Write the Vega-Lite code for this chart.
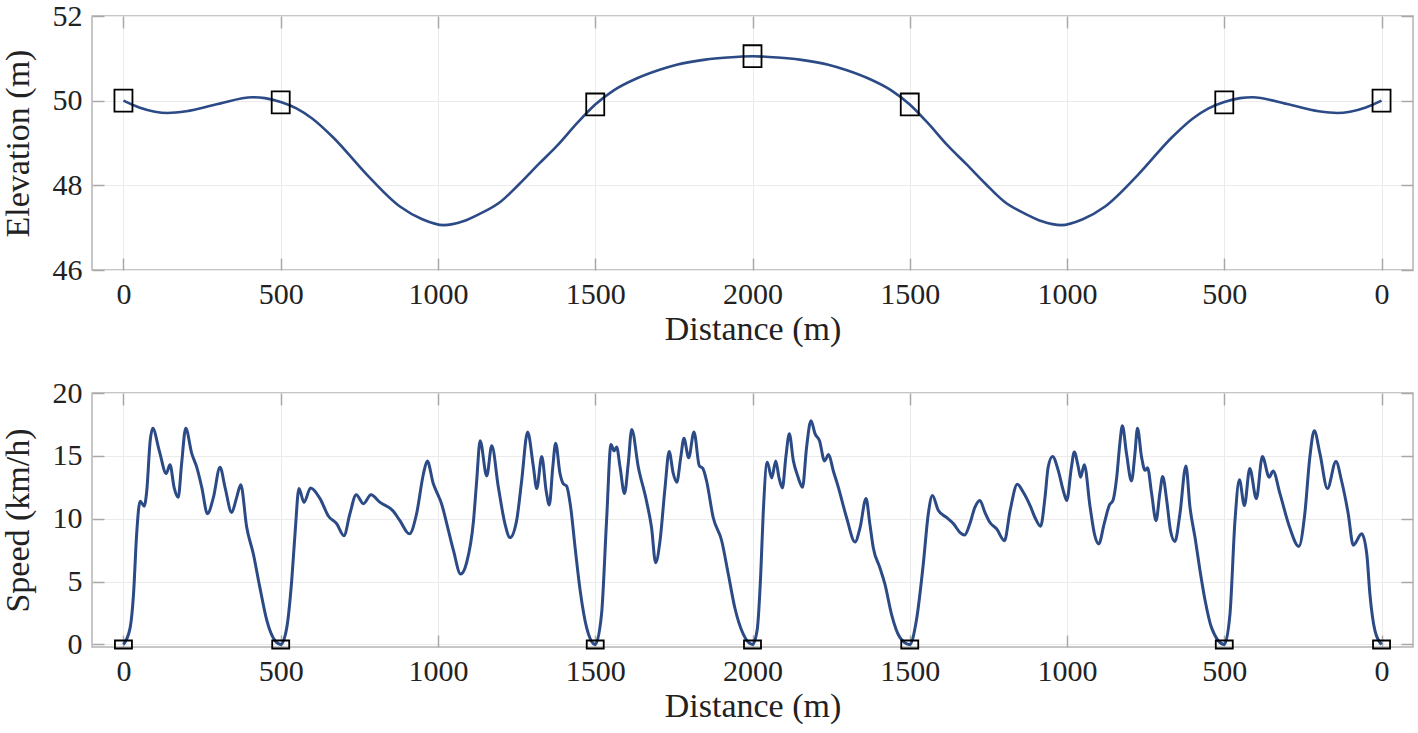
{
"$schema": "https://vega.github.io/schema/vega-lite/v6.json",
"background": "white",
"padding": {"left": 0, "top": 0, "right": 3, "bottom": 3},
"spacing": 30,
"config": {
  "font": "Liberation Serif",
  "view": {"stroke": "#b4b4b4", "strokeWidth": 1.5},
  "axis": {"labelFont": "Liberation Serif", "titleFont": "Liberation Serif", "labelFontSize": 30, "titleFontSize": 34, "titleFontWeight": "normal", "labelColor": "#222222", "titleColor": "#222222", "domain": false, "tickColor": "#a8a8a8", "tickSize": -12, "tickWidth": 1.5, "gridColor": "#ebebeb", "gridWidth": 1}
},
"datasets": {
  "elev": [
    {"d":0,"e":50.0},{"d":50,"e":49.84},{"d":100,"e":49.74},{"d":140,"e":49.71},{"d":200,"e":49.75},{"d":300,"e":49.92},{"d":410,"e":50.08},{"d":450,"e":50.06},{"d":500,"e":49.97},{"d":550,"e":49.82},{"d":600,"e":49.58},{"d":667,"e":49.13},{"d":773,"e":48.26},{"d":879,"e":47.5},{"d":950,"e":47.2},{"d":1018,"e":47.06},{"d":1080,"e":47.15},{"d":1131,"e":47.32},{"d":1200,"e":47.62},{"d":1257,"e":48.02},{"d":1320,"e":48.5},{"d":1382,"e":48.96},{"d":1440,"e":49.45},{"d":1500,"e":49.91},{"d":1560,"e":50.25},{"d":1633,"e":50.53},{"d":1700,"e":50.72},{"d":1759,"e":50.85},{"d":1850,"e":50.97},{"d":1920,"e":51.02},{"d":2000,"e":51.05},
    {"d":2080,"e":51.02},{"d":2150,"e":50.97},{"d":2241,"e":50.85},{"d":2300,"e":50.72},{"d":2367,"e":50.53},{"d":2440,"e":50.25},{"d":2500,"e":49.91},{"d":2560,"e":49.45},{"d":2618,"e":48.96},{"d":2680,"e":48.5},{"d":2743,"e":48.02},{"d":2800,"e":47.62},{"d":2869,"e":47.32},{"d":2920,"e":47.15},{"d":2982,"e":47.06},{"d":3050,"e":47.2},{"d":3121,"e":47.5},{"d":3227,"e":48.26},{"d":3333,"e":49.13},{"d":3400,"e":49.58},{"d":3450,"e":49.82},{"d":3500,"e":49.97},{"d":3550,"e":50.06},{"d":3590,"e":50.08},{"d":3700,"e":49.92},{"d":3800,"e":49.75},{"d":3860,"e":49.71},{"d":3900,"e":49.74},{"d":3950,"e":49.84},{"d":4000,"e":50.0}
  ],
  "elevMarks": [
    {"d":0,"e":50.0},{"d":500,"e":49.96},{"d":1500,"e":49.91},{"d":2000,"e":51.05},{"d":2500,"e":49.91},{"d":3500,"e":49.96},{"d":4000,"e":50.0}
  ],
  "speed": [
    {"d":0,"v":0},{"d":21,"v":1.3},{"d":32,"v":4.0},{"d":42,"v":8.8},{"d":53,"v":11.4},{"d":66,"v":11.0},{"d":74,"v":12.2},{"d":85,"v":16.2},{"d":93,"v":17.2},{"d":114,"v":15.4},{"d":136,"v":13.6},{"d":148,"v":14.3},{"d":161,"v":12.5},{"d":174,"v":11.7},{"d":185,"v":14.4},{"d":198,"v":17.2},{"d":217,"v":15.2},{"d":233,"v":14.1},{"d":249,"v":12.5},{"d":267,"v":10.4},{"d":286,"v":11.7},{"d":307,"v":14.1},{"d":323,"v":12.5},{"d":344,"v":10.5},{"d":360,"v":11.7},{"d":373,"v":12.7},{"d":392,"v":9.3},{"d":413,"v":7.2},{"d":434,"v":4.5},{"d":456,"v":1.9},{"d":482,"v":0.3},{"d":500,"v":0},
    {"d":519,"v":1.3},{"d":535,"v":5.1},{"d":546,"v":9.0},{"d":558,"v":12.4},{"d":574,"v":11.3},{"d":595,"v":12.45},{"d":625,"v":11.6},{"d":652,"v":10.2},{"d":678,"v":9.6},{"d":701,"v":8.65},{"d":720,"v":10.4},{"d":740,"v":11.9},{"d":763,"v":11.2},{"d":787,"v":11.9},{"d":816,"v":11.3},{"d":858,"v":10.6},{"d":879,"v":9.85},{"d":909,"v":8.8},{"d":932,"v":10.4},{"d":954,"v":13.6},{"d":966,"v":14.6},{"d":985,"v":12.8},{"d":1000,"v":11.9},{"d":1010,"v":11.3},{"d":1028,"v":9.6},{"d":1049,"v":7.5},{"d":1072,"v":5.6},{"d":1091,"v":6.5},{"d":1113,"v":9.85},{"d":1123,"v":13.0},{"d":1134,"v":16.2},{"d":1155,"v":13.4},{"d":1171,"v":15.8},{"d":1192,"v":12.5},{"d":1213,"v":9.6},{"d":1229,"v":8.5},{"d":1250,"v":9.85},{"d":1266,"v":13.0},{"d":1285,"v":16.9},{"d":1303,"v":14.2},{"d":1314,"v":12.4},{"d":1330,"v":14.95},{"d":1344,"v":12.2},{"d":1354,"v":11.1},{"d":1365,"v":14.1},{"d":1374,"v":16.0},{"d":1388,"v":13.6},{"d":1398,"v":12.8},{"d":1409,"v":12.6},{"d":1422,"v":10.9},{"d":1436,"v":7.7},{"d":1452,"v":4.3},{"d":1473,"v":1.3},{"d":1500,"v":0},
    {"d":1520,"v":2.4},{"d":1536,"v":9.85},{"d":1550,"v":15.9},{"d":1560,"v":15.4},{"d":1568,"v":15.7},{"d":1579,"v":14.1},{"d":1593,"v":12.0},{"d":1605,"v":14.4},{"d":1616,"v":17.1},{"d":1637,"v":14.1},{"d":1663,"v":11.4},{"d":1679,"v":9.3},{"d":1692,"v":6.5},{"d":1706,"v":8.25},{"d":1722,"v":12.5},{"d":1735,"v":15.35},{"d":1748,"v":13.6},{"d":1759,"v":12.9},{"d":1772,"v":14.9},{"d":1782,"v":16.4},{"d":1797,"v":14.85},{"d":1814,"v":16.9},{"d":1831,"v":14.2},{"d":1842,"v":14.0},{"d":1854,"v":13.0},{"d":1875,"v":10.1},{"d":1902,"v":8.25},{"d":1923,"v":5.6},{"d":1944,"v":2.9},{"d":1971,"v":0.8},{"d":2000,"v":0},
    {"d":2015,"v":1.2},{"d":2026,"v":5.5},{"d":2034,"v":10.4},{"d":2047,"v":14.5},{"d":2061,"v":13.25},{"d":2074,"v":14.6},{"d":2084,"v":13.3},{"d":2095,"v":12.45},{"d":2106,"v":14.9},{"d":2117,"v":16.75},{"d":2130,"v":14.6},{"d":2145,"v":13.3},{"d":2159,"v":12.5},{"d":2172,"v":15.7},{"d":2186,"v":17.8},{"d":2199,"v":16.75},{"d":2213,"v":16.2},{"d":2229,"v":14.6},{"d":2242,"v":15.1},{"d":2257,"v":13.8},{"d":2273,"v":12.5},{"d":2299,"v":10.1},{"d":2326,"v":8.15},{"d":2342,"v":9.3},{"d":2361,"v":11.6},{"d":2373,"v":9.6},{"d":2384,"v":7.7},{"d":2405,"v":6.1},{"d":2421,"v":4.8},{"d":2442,"v":2.4},{"d":2469,"v":0.55},{"d":2500,"v":0},
    {"d":2521,"v":1.9},{"d":2543,"v":6.4},{"d":2559,"v":10.4},{"d":2572,"v":11.85},{"d":2591,"v":10.65},{"d":2617,"v":10.1},{"d":2639,"v":9.6},{"d":2660,"v":8.9},{"d":2674,"v":8.7},{"d":2691,"v":9.6},{"d":2707,"v":10.9},{"d":2723,"v":11.45},{"d":2739,"v":10.5},{"d":2755,"v":9.7},{"d":2776,"v":9.2},{"d":2801,"v":8.25},{"d":2819,"v":10.65},{"d":2842,"v":12.75},{"d":2861,"v":12.1},{"d":2885,"v":10.9},{"d":2898,"v":10.1},{"d":2916,"v":9.4},{"d":2930,"v":11.7},{"d":2940,"v":14.1},{"d":2954,"v":14.95},{"d":2972,"v":13.85},{"d":2988,"v":12.25},{"d":2999,"v":11.45},{"d":3014,"v":14.1},{"d":3023,"v":15.3},{"d":3036,"v":14.1},{"d":3043,"v":13.3},{"d":3055,"v":14.3},{"d":3073,"v":11.0},{"d":3088,"v":8.7},{"d":3101,"v":8.0},{"d":3118,"v":9.6},{"d":3135,"v":11.1},{"d":3146,"v":11.45},{"d":3158,"v":13.3},{"d":3168,"v":16.0},{"d":3176,"v":17.4},{"d":3189,"v":15.2},{"d":3205,"v":13.0},{"d":3216,"v":15.2},{"d":3224,"v":17.2},{"d":3237,"v":14.9},{"d":3248,"v":13.85},{"d":3256,"v":14.05},{"d":3269,"v":12.0},{"d":3283,"v":9.85},{"d":3295,"v":12.0},{"d":3304,"v":13.35},{"d":3317,"v":11.45},{"d":3329,"v":9.05},{"d":3343,"v":8.2},{"d":3359,"v":10.4},{"d":3378,"v":14.2},{"d":3391,"v":10.9},{"d":3407,"v":8.5},{"d":3423,"v":5.85},{"d":3439,"v":3.5},{"d":3460,"v":1.3},{"d":3500,"v":0},
    {"d":3518,"v":2.4},{"d":3534,"v":9.85},{"d":3548,"v":13.1},{"d":3564,"v":11.05},{"d":3581,"v":14.0},{"d":3602,"v":11.6},{"d":3621,"v":14.95},{"d":3643,"v":13.3},{"d":3655,"v":13.8},{"d":3677,"v":12.0},{"d":3708,"v":9.3},{"d":3737,"v":7.8},{"d":3756,"v":10.4},{"d":3772,"v":14.9},{"d":3786,"v":17.0},{"d":3804,"v":15.2},{"d":3828,"v":12.4},{"d":3855,"v":14.55},{"d":3873,"v":13.0},{"d":3894,"v":10.4},{"d":3910,"v":7.9},{"d":3937,"v":8.8},{"d":3953,"v":7.2},{"d":3963,"v":4.0},{"d":3979,"v":1.1},{"d":4000,"v":0}
  ],
  "speedMarks": [
    {"d":0,"v":0},{"d":500,"v":0},{"d":1500,"v":0},{"d":2000,"v":0},{"d":2500,"v":0},{"d":3500,"v":0},{"d":4000,"v":0}
  ]
},
"vconcat": [
  {
    "width": 1321, "height": 254,
    "layer": [
      {
        "data": {"name": "elev"},
        "mark": {"type": "line", "color": "#2b4a86", "strokeWidth": 2.6, "interpolate": "monotone"},
        "encoding": {
          "x": {"field": "d", "type": "quantitative", "scale": {"domain": [-100, 4100], "nice": false, "zero": false},
                "axis": {"values": [0,500,1000,1500,2000,2500,3000,3500,4000], "labelExpr": "datum.value <= 2000 ? datum.value : 4000 - datum.value", "title": "Distance (m)", "grid": true, "labelPadding": 21, "titlePadding": 3}},
          "y": {"field": "e", "type": "quantitative", "scale": {"domain": [46, 52], "nice": false, "zero": false},
                "axis": {"values": [46,48,50,52], "title": "Elevation (m)", "grid": true, "labelPadding": 22, "titlePadding": 17}}
        }
      },
      {
        "data": {"name": "elevMarks"},
        "mark": {"type": "point", "shape": "M-1,-1.22L1,-1.22L1,1.22L-1,1.22Z", "size": 324, "filled": false, "stroke": "black", "strokeWidth": 1.8, "opacity": 1},
        "encoding": {
          "x": {"field": "d", "type": "quantitative", "scale": {"domain": [-100, 4100], "nice": false, "zero": false},
                "axis": {"orient": "top", "values": [0,500,1000,1500,2000,2500,3000,3500,4000], "labels": false, "grid": false, "title": null}},
          "y": {"field": "e", "type": "quantitative", "scale": {"domain": [46, 52], "nice": false, "zero": false},
                "axis": {"orient": "right", "values": [46,48,50,52], "labels": false, "grid": false, "title": null}}
        }
      }
    ],
    "resolve": {"axis": {"x": "independent", "y": "independent"}}
  },
  {
    "width": 1321, "height": 254,
    "layer": [
      {
        "data": {"name": "speed"},
        "mark": {"type": "line", "color": "#2b4a86", "strokeWidth": 3, "interpolate": "monotone"},
        "encoding": {
          "x": {"field": "d", "type": "quantitative", "scale": {"domain": [-100, 4100], "nice": false, "zero": false},
                "axis": {"values": [0,500,1000,1500,2000,2500,3000,3500,4000], "labelExpr": "datum.value <= 2000 ? datum.value : 4000 - datum.value", "title": "Distance (m)", "grid": true, "labelPadding": 21, "titlePadding": 3}},
          "y": {"field": "v", "type": "quantitative", "scale": {"domain": [-0.2, 20], "nice": false, "zero": false},
                "axis": {"values": [0,5,10,15,20], "title": "Speed (km/h)", "grid": true, "labelPadding": 22, "titlePadding": 17}}
        }
      },
      {
        "data": {"name": "speedMarks"},
        "mark": {"type": "point", "shape": "M-1,-0.47L1,-0.47L1,0.47L-1,0.47Z", "size": 289, "filled": false, "stroke": "black", "strokeWidth": 1.8, "opacity": 1},
        "encoding": {
          "x": {"field": "d", "type": "quantitative", "scale": {"domain": [-100, 4100], "nice": false, "zero": false},
                "axis": {"orient": "top", "values": [0,500,1000,1500,2000,2500,3000,3500,4000], "labels": false, "grid": false, "title": null}},
          "y": {"field": "v", "type": "quantitative", "scale": {"domain": [-0.2, 20], "nice": false, "zero": false},
                "axis": {"orient": "right", "values": [0,5,10,15,20], "labels": false, "grid": false, "title": null}}
        }
      }
    ],
    "resolve": {"axis": {"x": "independent", "y": "independent"}}
  }
]
}
